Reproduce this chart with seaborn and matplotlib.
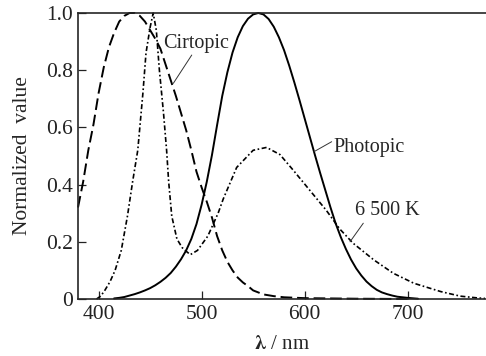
import matplotlib
matplotlib.use("Agg")
import matplotlib.pyplot as plt
import pandas as pd
import seaborn as sns

# Photopic (solid)
photopic_nm = [415, 420, 425, 430, 435, 440, 445, 450, 455, 460, 465, 470, 475, 480, 485,
               490, 495, 500, 505, 510, 515, 520, 525, 530, 535, 540, 545, 550, 555, 560,
               565, 570, 575, 580, 585, 590, 595, 600, 605, 610, 615, 620, 625, 630, 635,
               640, 645, 650, 655, 660, 665, 670, 675, 680, 685, 690, 695, 700, 710]
photopic_val = [0.002, 0.004, 0.007, 0.012, 0.017, 0.023, 0.030, 0.038, 0.048, 0.060, 0.074,
                0.091, 0.113, 0.139, 0.170, 0.210, 0.262, 0.330, 0.410, 0.503, 0.608, 0.710,
                0.793, 0.862, 0.915, 0.954, 0.980, 0.995, 1.000, 0.995, 0.979, 0.952, 0.915,
                0.870, 0.816, 0.757, 0.695, 0.631, 0.567, 0.503, 0.441, 0.381, 0.321, 0.265,
                0.217, 0.175, 0.138, 0.107, 0.082, 0.061, 0.045, 0.032, 0.023, 0.017, 0.012,
                0.008, 0.006, 0.004, 0.001]

# Cirtopic (dashed)
cirtopic_nm = [380, 385, 390, 395, 400, 405, 410, 415, 420, 425, 430, 435, 440, 445, 450,
               455, 460, 465, 470, 475, 480, 485, 490, 495, 500, 505, 510, 515, 520, 525,
               530, 535, 540, 545, 550, 560, 570, 580, 600, 650, 700]
cirtopic_val = [0.32, 0.41, 0.52, 0.61, 0.72, 0.81, 0.88, 0.93, 0.97, 0.99, 1.00, 1.00, 0.99,
                0.97, 0.94, 0.91, 0.875, 0.82, 0.765, 0.71, 0.65, 0.59, 0.52, 0.445, 0.39,
                0.34, 0.285, 0.22, 0.17, 0.13, 0.10, 0.075, 0.058, 0.045, 0.030, 0.016,
                0.010, 0.006, 0.003, 0.001, 0.0]

# 6 500 K source (dash-dot)
k6500_nm = [398, 402, 406, 411, 416, 422, 428, 433, 438, 443, 446, 450, 453, 456, 459, 463,
            466, 468, 471, 476, 481, 484, 489, 496, 506, 516, 521, 534, 550, 563, 576, 589,
            605, 621, 634, 647, 667, 686, 706, 732, 751, 767, 775]
k6500_val = [0.0, 0.01, 0.03, 0.06, 0.10, 0.17, 0.29, 0.41, 0.52, 0.72, 0.86, 0.95, 1.00,
             0.94, 0.80, 0.65, 0.52, 0.41, 0.29, 0.21, 0.18, 0.17, 0.155, 0.17, 0.22, 0.30,
             0.35, 0.46, 0.52, 0.53, 0.505, 0.45, 0.38, 0.31, 0.245, 0.195, 0.137, 0.09,
             0.055, 0.026, 0.01, 0.004, 0.002]

y_ticks = [0, 0.2, 0.4, 0.6, 0.8, 1.0]
y_tick_labels = ["0", "0.2", "0.4", "0.6", "0.8", "1.0"]
x_ticks = [400, 500, 600, 700]

sns.set_style("ticks")
plt.rcParams["font.family"] = ["Liberation Serif", "DejaVu Serif"]
plt.rcParams["mathtext.fontset"] = "stix"

fig = plt.figure(figsize=(4.86, 3.56), dpi=100)
ax = fig.add_axes([78 / 486, 57 / 356, 408 / 486, 286 / 356])

photopic = pd.DataFrame({"nm": photopic_nm, "value": photopic_val})
cirtopic = pd.DataFrame({"nm": cirtopic_nm, "value": cirtopic_val})
k6500 = pd.DataFrame({"nm": k6500_nm, "value": k6500_val})

sns.lineplot(data=photopic, x="nm", y="value", ax=ax, color="black", lw=1.4, clip_on=False)
sns.lineplot(data=cirtopic, x="nm", y="value", ax=ax, color="black", lw=1.4,
             linestyle=(0, (6, 2.5)), clip_on=False)
sns.lineplot(data=k6500, x="nm", y="value", ax=ax, color="black", lw=1.2,
             linestyle=(0, (3, 1.5, 1, 1.5)), clip_on=False)

ax.set_xlim(380, 776)
ax.set_ylim(0, 1.0)
ax.set_xticks(x_ticks)
ax.set_yticks(y_ticks)
ax.set_yticklabels(y_tick_labels)
ax.tick_params(direction="in", length=6, width=0.9, labelsize=15.5, colors="#222222")
ax.tick_params(axis="x", pad=4)
ax.spines["right"].set_visible(False)
for side in ["left", "bottom", "top"]:
    ax.spines[side].set_linewidth(1.2)

ax.set_xlabel(r"$\boldsymbol{\lambda}$ / nm", fontsize=15, labelpad=8)
ax.set_ylabel("Normalized  value", fontsize=15.5, labelpad=10)

# labels with thin leader lines
leader = dict(arrowstyle="-", color="#333333", lw=0.7, shrinkA=0, shrinkB=0)
ax.text(462.5, 0.895, "Cirtopic", fontsize=14.5, va="center", ha="left")
ax.annotate("", xy=(472.5, 0.754), xytext=(490.4, 0.853), arrowprops=leader)
ax.text(627.5, 0.528, "Photopic", fontsize=14.5, va="center", ha="left")
ax.annotate("", xy=(609, 0.515), xytext=(626.2, 0.55), arrowprops=leader)
ax.text(648.9, 0.311, "6 500 K", fontsize=14.5, va="center", ha="left")
ax.annotate("", xy=(644, 0.20), xytext=(656.9, 0.265), arrowprops=leader)

fig.savefig("out.png", dpi=100)
